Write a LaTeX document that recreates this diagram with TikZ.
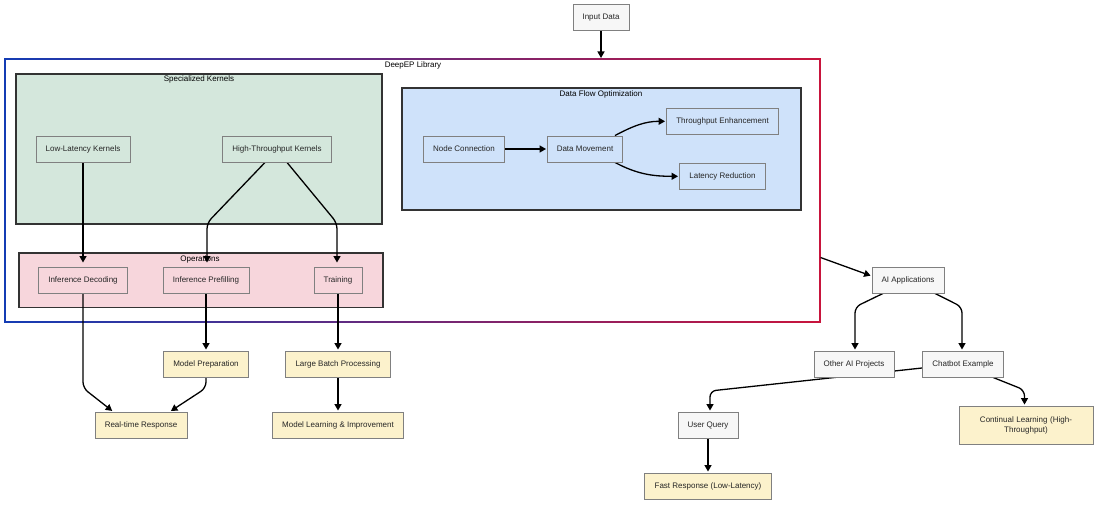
\documentclass[tikz,border=0pt]{standalone}
\usepackage{fontspec}
\setmainfont{Liberation Sans}
\usetikzlibrary{arrows.meta}
\pgfdeclarelayer{bg}
\pgfdeclarelayer{edges}
\pgfsetlayers{bg,edges,main}
\definecolor{kgreen}{RGB}{212,231,220}
\definecolor{opink}{RGB}{247,214,220}
\definecolor{dblue}{RGB}{207,226,250}
\definecolor{ngray}{RGB}{247,247,247}
\definecolor{nyellow}{RGB}{252,242,204}
\definecolor{nborder}{RGB}{128,128,128}
\definecolor{cborder}{RGB}{51,51,51}
\definecolor{dpblue}{RGB}{20,60,180}
\definecolor{dpred}{RGB}{200,20,60}
\tikzset{
  box/.style={draw=nborder, line width=0.9pt, minimum height=26pt, inner sep=2pt,
    font=\fontsize{8}{10}\selectfont, text=black!85, text depth=0.5pt},
  graybox/.style={box, fill=ngray},
  yelbox/.style={box, fill=nyellow},
  grnbox/.style={box, fill=kgreen},
  pnkbox/.style={box, fill=opink},
  blubox/.style={box, fill=dblue},
  cluster/.style={draw=cborder, line width=1.3pt},
  clabel/.style={font=\fontsize{8}{10}\selectfont, text=black, inner sep=0pt},
  arr/.style={draw=black, line width=1.3pt, -{Triangle[length=6.5pt,width=7pt]}, rounded corners=6pt, shorten >=1pt},
}
\begin{document}
\begin{tikzpicture}[x=1pt,y=-1pt]
\useasboundingbox (0,0) rectangle (1100,505);

% clusters
\begin{pgfonlayer}{bg}
  \fill[white] (0,0) rectangle (1100,505);
  % DeepEP gradient frame
  \shade[left color=dpblue, right color=dpred] (4.3,58.4) rectangle (820.7,59.8);
  \shade[left color=dpblue, right color=dpred] (4.3,321.4) rectangle (820.7,322.8);
  \fill[dpblue] (4.3,58.4) rectangle (5.7,322.8);
  \fill[dpred] (819.3,58.4) rectangle (820.7,322.8);
  \node[clabel] (deeplbl) at (413,65.5) {DeepEP Library};
  \draw[cluster, fill=kgreen] (16,74) rectangle (382,224);
  \node[clabel] (sklbl) at (199,79.5) {Specialized Kernels};
  \draw[cluster, fill=opink] (19,253) rectangle (383,307.5);
  \node[clabel] (oplbl) at (200,259) {Operations};
  \draw[cluster, fill=dblue] (402,88) rectangle (801,210);
  \node[clabel] (dflbl) at (601,94.5) {Data Flow Optimization};
\end{pgfonlayer}

% nodes
\node[graybox, minimum width=56pt] (in) at (601,17.5) {Input Data};
\node[grnbox, minimum width=94pt] (lk) at (83,149) {Low-Latency Kernels};
\node[grnbox, minimum width=109pt] (hk) at (277,149) {High-Throughput Kernels};
\node[blubox, minimum width=81pt] (nc) at (464,149) {Node Connection};
\node[blubox, minimum width=75pt] (dm) at (585,149) {Data Movement};
\node[blubox, minimum width=112pt] (te) at (722.5,121.3) {Throughput Enhancement};
\node[blubox, minimum width=86pt] (lr) at (722.5,176.3) {Latency Reduction};
\node[pnkbox, minimum width=89pt] (id) at (83,280) {Inference Decoding};
\node[pnkbox, minimum width=86pt] (ipf) at (206,280) {Inference Prefilling};
\node[pnkbox, minimum width=48pt] (tr) at (338,280) {Training};
\node[yelbox, minimum width=85pt] (mp) at (206,364) {Model Preparation};
\node[yelbox, minimum width=105pt] (lb) at (338,364) {Large Batch Processing};
\node[yelbox, minimum width=92pt] (rt) at (141,425) {Real-time Response};
\node[yelbox, minimum width=131pt] (ml) at (338,425) {Model Learning \& Improvement};
\node[graybox, minimum width=72pt] (ai) at (908,280) {AI Applications};
\node[graybox, minimum width=80pt] (oa) at (854,364) {Other AI Projects};
\node[graybox, minimum width=81pt] (cb) at (963,364) {Chatbot Example};
\node[graybox, minimum width=60pt] (uq) at (708,425) {User Query};
\node[yelbox, text depth={}, minimum width=134pt, minimum height=38pt, text width=124pt, align=center] (cl) at (1026,425) {Continual Learning (High-\\Throughput)};
\node[yelbox, minimum width=127pt] (fr) at (708,486) {Fast Response (Low-Latency)};

% coordinates
\coordinate (dtop) at (601,59);
\coordinate (dright) at (820.5,257.5);
\coordinate (b1) at (207,223);
\coordinate (b2) at (337,223);
\coordinate (b3) at (83,388);
\coordinate (b4) at (206,388);
\coordinate (b5) at (855,307);
\coordinate (b6) at (962,307);
\coordinate (b7) at (710,391);
\coordinate (b8) at (1024.5,390);

% edges
\begin{pgfonlayer}{edges}
  \draw[arr] (in.south) -- (dtop);
  \draw[arr, shorten >=4pt] (lk.south) -- (id.north);
  \draw[arr, shorten >=4pt] ([xshift=-12pt]hk.south) -- (b1) -- (b1 |- ipf.north);
  \draw[arr, shorten >=4pt] ([xshift=10pt]hk.south) -- (b2) -- (b2 |- tr.north);
  \draw[arr] (ipf.south) -- (mp.north);
  \draw[arr] (tr.south) -- (lb.north);
  \draw[arr] (lb.south) -- (ml.north);
  \draw[arr] (id.south) -- (b3) -- ([xshift=-28pt]rt.north);
  \draw[arr] (mp.south) -- (b4) -- ([xshift=29pt]rt.north);
  \draw[arr] (nc.east) -- (dm.west);
  \draw[arr] ([xshift=-8pt]dm.north east) to[out=28,in=180] (te.west);
  \draw[arr] ([xshift=-8pt]dm.south east) to[out=-28,in=180] (lr.west);
  \draw[arr] (dright) -- ([yshift=4pt]ai.west);
  \draw[arr] ([xshift=-25pt]ai.south) -- (b5) -- (b5 |- oa.north);
  \draw[arr] ([xshift=27pt]ai.south) -- (b6) -- (b6 |- cb.north);
  \draw[arr] ([yshift=-4pt]cb.west) -- (b7) -- (b7 |- uq.north);
  \draw[arr] (uq.south) -- (fr.north);
  \draw[arr] ([xshift=30pt]cb.south) -- (b8) -- (b8 |- cl.north);
\end{pgfonlayer}
\end{tikzpicture}
\end{document}
